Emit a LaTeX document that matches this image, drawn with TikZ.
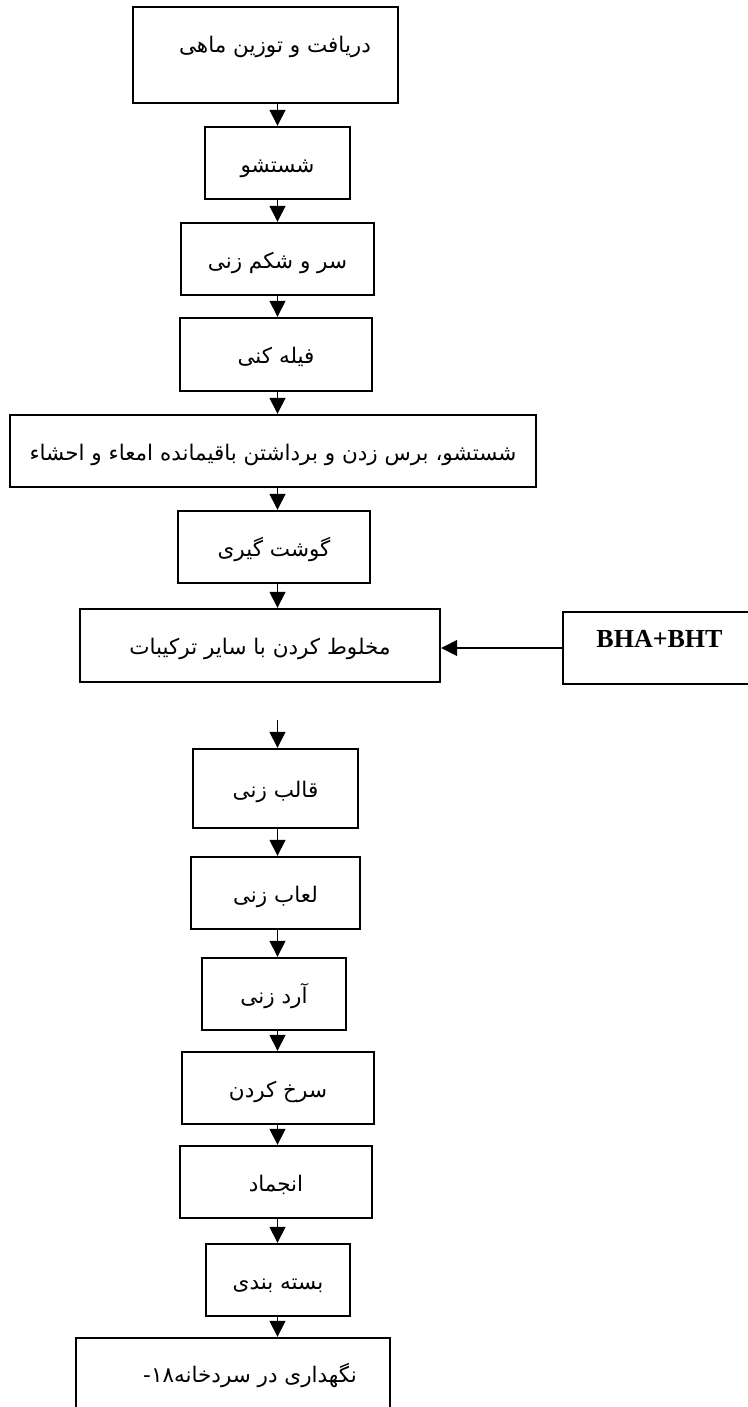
\documentclass[tikz,border=0pt]{standalone}
\usepackage{fontspec}
\setmainfont{Liberation Serif}
\newfontfamily\fa[Script=Arabic]{DejaVu Sans}
\TeXXeTstate=1
\usetikzlibrary{arrows.meta}
\newcommand\fat[1]{{\fa\beginR #1\endR}}
\begin{document}
\begin{tikzpicture}[x=1pt,y=-1pt,
  box/.style={draw, line width=2.4pt, inner sep=0pt, text height=18pt, text depth=0pt, font=\fa\fontsize{21.5}{25}\selectfont},
  txt/.style={inner sep=0pt, font=\fa\fontsize{21.5}{25}\selectfont},
  flow/.style={line width=1.5pt, -{Triangle[length=16pt,width=16pt]}}]
\useasboundingbox (0,0) rectangle (747,1407);
\coordinate (col) at (277.5,0);
% boxes
\node[box, minimum width=265pt, minimum height=96pt] (b1) at (265.5,55) {};
\node[txt] (t1) at (275,47) {\fat{دریافت و توزین ماهی}};
\node[box, minimum width=145pt, minimum height=72pt] (b2) at (277.5,163) {\fat{شستشو}};
\node[box, minimum width=193pt, minimum height=72pt] (b3) at (277.5,259) {\fat{سر و شکم زنی}};
\node[box, minimum width=192pt, minimum height=73pt] (b4) at (276,354.5) {\fat{فیله کنی}};
\node[box, minimum width=526pt, minimum height=72pt] (b5) at (273,451) {\fat{شستشو، برس زدن و برداشتن باقیمانده امعاء و احشاء}};
\node[box, minimum width=192pt, minimum height=72pt] (b6) at (274,547) {\fat{گوشت گیری}};
\node[box, minimum width=360pt, minimum height=73pt] (b7) at (260,645.5) {\fat{مخلوط کردن با سایر ترکیبات}};
\node[box, minimum width=197pt, minimum height=72pt] (bha) at (661.5,648) {};
\node[inner sep=0pt, font=\bfseries\fontsize{26}{30}\selectfont] (tbha) at (659.5,639) {BHA+BHT};
\coordinate (free) at (277.5,720);
\node[box, minimum width=165pt, minimum height=79pt] (b8) at (275.5,788.5) {\fat{قالب زنی}};
\node[box, minimum width=169pt, minimum height=72pt] (b9) at (275.5,893) {\fat{لعاب زنی}};
\node[box, minimum width=144pt, minimum height=72pt] (b10) at (274,994) {\fat{آرد زنی}};
\node[box, minimum width=192pt, minimum height=72pt] (b11) at (278,1088) {\fat{سرخ کردن}};
\node[box, minimum width=192pt, minimum height=72pt] (b12) at (276,1182) {\fat{انجماد}};
\node[box, minimum width=144pt, minimum height=72pt] (b13) at (278,1280) {\fat{بسته بندی}};
\node[box, minimum width=314pt, minimum height=82pt] (b14) at (233,1379) {};
\node[txt] (t14) at (250,1375) {\fat{نگهداری در سردخانه۱۸-}};
% connectors
\draw[flow] (b1.south -| col) -- (b2.north -| col);
\draw[flow] (b2.south -| col) -- (b3.north -| col);
\draw[flow] (b3.south -| col) -- (b4.north -| col);
\draw[flow] (b4.south -| col) -- (b5.north -| col);
\draw[flow] (b5.south -| col) -- (b6.north -| col);
\draw[flow] (b6.south -| col) -- (b7.north -| col);
\draw[flow] (bha.west) -- (bha.west -| b7.east);
\draw[flow] (free) -- (b8.north -| col);
\draw[flow] (b8.south -| col) -- (b9.north -| col);
\draw[flow] (b9.south -| col) -- (b10.north -| col);
\draw[flow] (b10.south -| col) -- (b11.north -| col);
\draw[flow] (b11.south -| col) -- (b12.north -| col);
\draw[flow] (b12.south -| col) -- (b13.north -| col);
\draw[flow] (b13.south -| col) -- (b14.north -| col);
\end{tikzpicture}
\end{document}
